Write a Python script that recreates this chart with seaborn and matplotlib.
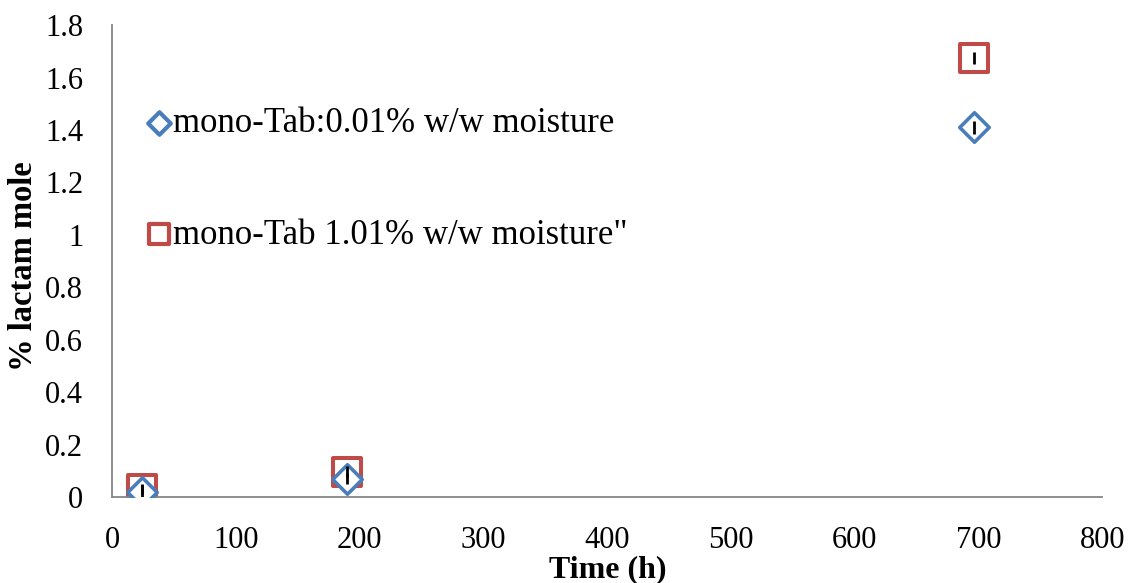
import matplotlib
matplotlib.use("Agg")
import matplotlib.pyplot as plt
import seaborn as sns
import pandas as pd

# Sampling times (h) and lactam content for the two tablet batches
time_h = [24, 190, 696]
dry_lactam = [0.02, 0.07, 1.41]
dry_err = [0.025, 0.022, 0.025]
wet_lactam = [0.03, 0.097, 1.675]
wet_err = [0.02, 0.02, 0.023]

label_dry = "mono-Tab:0.01% w/w moisture"
label_wet = "mono-Tab 1.01% w/w moisture\""

x_ticks = [0, 100, 200, 300, 400, 500, 600, 700, 800]
y_ticks = [0, 0.2, 0.4, 0.6, 0.8, 1, 1.2, 1.4, 1.6, 1.8]
y_tick_labels = ["0", "0.2", "0.4", "0.6", "0.8", "1", "1.2", "1.4", "1.6", "1.8"]

sns.set_theme(style="white")
plt.rcParams["font.family"] = ["Liberation Serif", "DejaVu Serif"]
plt.rcParams["text.color"] = "black"
plt.rcParams["axes.labelcolor"] = "black"

df = pd.DataFrame({
    "time": time_h * 2,
    "lactam": dry_lactam + wet_lactam,
    "series": [label_dry] * 3 + [label_wet] * 3,
})

fig = plt.figure(figsize=(11.29, 5.83), dpi=100)
ax = fig.add_axes([0.0995, 0.1475, 0.877, 0.8095])

blue = "#4A7EBB"
red = "#BE4B48"

sns.scatterplot(data=df[df.series == label_dry], x="time", y="lactam", ax=ax,
                marker="D", s=15 ** 2, facecolor="white", edgecolor=blue,
                linewidth=2.6, label=label_dry, zorder=3)
sns.scatterplot(data=df[df.series == label_wet], x="time", y="lactam", ax=ax,
                marker="s", s=19.5 ** 2, facecolor="white", edgecolor=red,
                linewidth=2.9, label=label_wet, zorder=2)

ax.errorbar(time_h, dry_lactam, yerr=dry_err, fmt="none", ecolor="black",
            elinewidth=2, capsize=0, zorder=5)
ax.errorbar(time_h, wet_lactam, yerr=wet_err, fmt="none", ecolor="black",
            elinewidth=2, capsize=0, zorder=5)

ax.set_xlim(0, 800)
ax.set_ylim(0, 1.8)
ax.set_xticks(x_ticks)
ax.set_yticks(y_ticks)
ax.set_yticklabels(y_tick_labels)
ax.tick_params(axis="both", which="both", direction="out", length=7, width=1.3,
               color="#868686", labelsize=22, labelcolor="black")
ax.tick_params(axis="x", pad=14)
ax.tick_params(axis="y", pad=14)
for side in ["top", "right"]:
    ax.spines[side].set_visible(False)
for side in ["left", "bottom"]:
    ax.spines[side].set_color("#868686")
    ax.spines[side].set_linewidth(1.3)

ax.set_xlabel("Time (h)", fontsize=23, fontweight="bold", labelpad=0, color="black")
ax.set_ylabel("% lactam mole", fontsize=23.5, fontweight="bold", color="black",
              va="center")
ax.yaxis.set_label_coords(-0.09, 0.49)

leg = ax.legend(loc="upper left", bbox_to_anchor=(0.019, 0.855), frameon=False,
                fontsize=25, handletextpad=0.0, labelspacing=2.25,
                handlelength=0.8, borderaxespad=0)
leg.legend_handles[0].set_sizes([11.5 ** 2])
leg.legend_handles[1].set_sizes([14 ** 2])
for h in leg.legend_handles:
    h.set_linewidth(3.0)
for t in leg.get_texts():
    t.set_color("black")

fig.savefig("out.png", dpi=100)
